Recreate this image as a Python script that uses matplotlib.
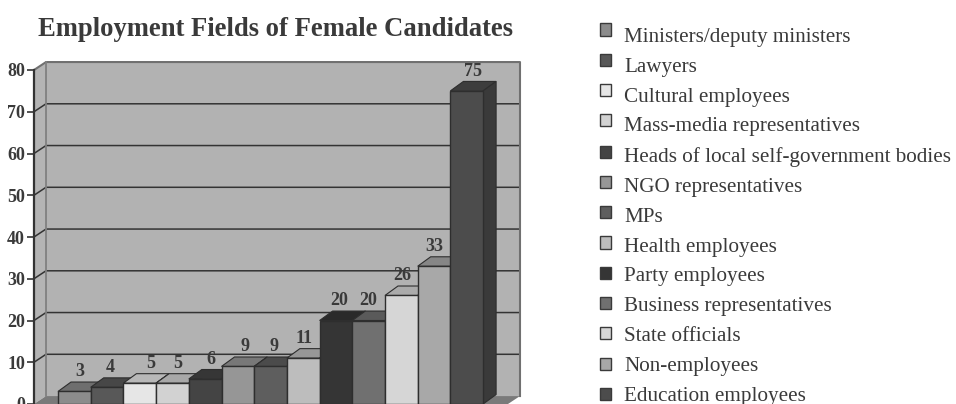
import numpy as np
import matplotlib
matplotlib.use("Agg")
import matplotlib.pyplot as plt
from matplotlib.legend_handler import HandlerPatch
from matplotlib.patches import Polygon, Patch, Rectangle

fields = ["Ministers/deputy ministers", "Lawyers", "Cultural employees",
          "Mass-media representatives", "Heads of local self-government bodies",
          "NGO representatives", "MPs", "Health employees", "Party employees",
          "Business representatives", "State officials", "Non-employees",
          "Education employees"]
values = [3, 4, 5, 5, 6, 9, 9, 11, 20, 20, 26, 33, 75]
front_colors = ["#8c8c8c", "#585858", "#e6e6e6", "#d2d2d2", "#444444", "#969696", "#5e5e5e",
                "#bdbdbd", "#353535", "#707070", "#d6d6d6", "#a8a8a8", "#4c4c4c"]
top_colors = ["#6e6e6e", "#474747", "#b8b8b8", "#a8a8a8", "#363636", "#787878", "#4b4b4b",
              "#979797", "#2a2a2a", "#5a5a5a", "#ababab", "#868686", "#3d3d3d"]
y_ticks = [0, 10, 20, 30, 40, 50, 60, 70, 80]

plt.rcParams["font.family"] = ["Liberation Serif", "DejaVu Serif"]
TEXT = "#3a3a3a"
W, H = 956, 404
PX_BAR = 32.7   # pixels per category
PX_VAL = 4.2    # pixels per unit

fig = plt.figure(figsize=(W / 100, H / 100), dpi=100)
left, right, top, bottom = 34, 508, 70, 404
ax = fig.add_axes([left / W, 1 - bottom / H, (right - left) / W, (bottom - top) / H])
ax.set_xlim((left - 58) / PX_BAR, (right - 58) / PX_BAR)
ax.set_ylim((406 - bottom) / PX_VAL, 80)
ax.patch.set_visible(False)

x0, x1 = ax.get_xlim()
wall_dx, wall_dy = 12 / PX_BAR, 8 / PX_VAL
bar_dx, bar_dy = 13 / PX_BAR, 9.5 / PX_VAL


def poly(pts, fc, ec="none", lw=0.0, z=1):
    ax.add_patch(Polygon(pts, closed=True, fc=fc, ec=ec, lw=lw, zorder=z, clip_on=False))


# walls and floor
poly([(x0 + wall_dx, wall_dy), (x1 + wall_dx, wall_dy), (x1 + wall_dx, 80 + wall_dy),
      (x0 + wall_dx, 80 + wall_dy)], "#b2b2b2")
poly([(x0, 0), (x0 + wall_dx, wall_dy), (x0 + wall_dx, 80 + wall_dy), (x0, 80)], "#b4b4b4")
poly([(x0, 0), (x1, 0), (x1 + wall_dx, wall_dy), (x0 + wall_dx, wall_dy)], "#7a7a7a")

for v in y_ticks[1:-1]:
    ax.plot([x0, x0 + wall_dx, x1 + wall_dx], [v, v + wall_dy, v + wall_dy],
            color="#333333", lw=1.1, zorder=2, clip_on=False)
ax.plot([x0, x0 + wall_dx, x1 + wall_dx, x1 + wall_dx], [80, 80 + wall_dy, 80 + wall_dy, wall_dy],
        color="#707070", lw=1.5, zorder=2, clip_on=False)
ax.plot([x0 + wall_dx, x0 + wall_dx], [wall_dy, 80 + wall_dy], color="#808080", lw=1.3, zorder=2,
        clip_on=False)

# bars, left to right so each one hides the side of the previous
idx = np.arange(len(values))
for i, v in zip(idx, values):
    z = 3 + i * 0.1
    poly([(i, v), (i + 1, v), (i + 1 + bar_dx, v + bar_dy), (i + bar_dx, v + bar_dy)],
         top_colors[i], "#2e2e2e", 0.8, z)
    poly([(i + 1, 0), (i + 1 + bar_dx, bar_dy), (i + 1 + bar_dx, v + bar_dy), (i + 1, v)],
         "#3a3a3a", "#2e2e2e", 0.8, z)
    ax.bar(i, v, width=1, align="edge", color=front_colors[i], edgecolor="#2e2e2e",
           linewidth=1.0, zorder=z + 0.05)

# value labels sit a little unevenly in the original
label_nudge = [5, 3, 11, 5, 6, 7, 3, 1, 3, 0, 1, 0, 6]
for i, v in zip(idx, values):
    ax.text(i + 0.5 + label_nudge[i] / PX_BAR, v + 4.7, str(v), ha="center", va="center",
            fontsize=13, fontweight="bold", color=TEXT, zorder=10, clip_on=False)

for s in ["top", "right", "bottom"]:
    ax.spines[s].set_visible(False)
ax.spines["left"].set_linewidth(1.6)
ax.spines["left"].set_color("#333333")
ax.set_xticks([])
ax.set_yticks(y_ticks)
ax.tick_params(axis="y", length=5, width=1.2, color="#333333", pad=1.5, labelsize=13, labelcolor=TEXT)
for t in ax.get_yticklabels():
    t.set_fontweight("bold")
    t.set_clip_on(False)

fig.text(275 / W, 1 - 29 / H, "Employment Fields of Female Candidates", ha="center", va="center",
         fontsize=19.2, fontweight="bold", color=TEXT)

handles = [Patch(fc=c, ec="#3a3a3a", lw=1.0) for c in front_colors]


# the squares drift against the text: 5 px above it on the first row, about level on the last
def square(legend, orig_handle, xdescent, ydescent, width, height, fontsize):
    row = handles.index(orig_handle)
    lift = (5 - 6 * row / (len(handles) - 1)) * 0.72
    return Rectangle((-xdescent, -ydescent + lift), width, height)


fig.legend(handles, fields, loc="upper left", bbox_to_anchor=(600 / W, 1 - 28 / H),
           frameon=False, borderpad=0, borderaxespad=0, fontsize=15.25, labelcolor=TEXT,
           handlelength=0.5, handleheight=0.5, handletextpad=0.65, labelspacing=0.51,
           handler_map={Patch: HandlerPatch(patch_func=square)})

fig.savefig("out.png", dpi=100)
